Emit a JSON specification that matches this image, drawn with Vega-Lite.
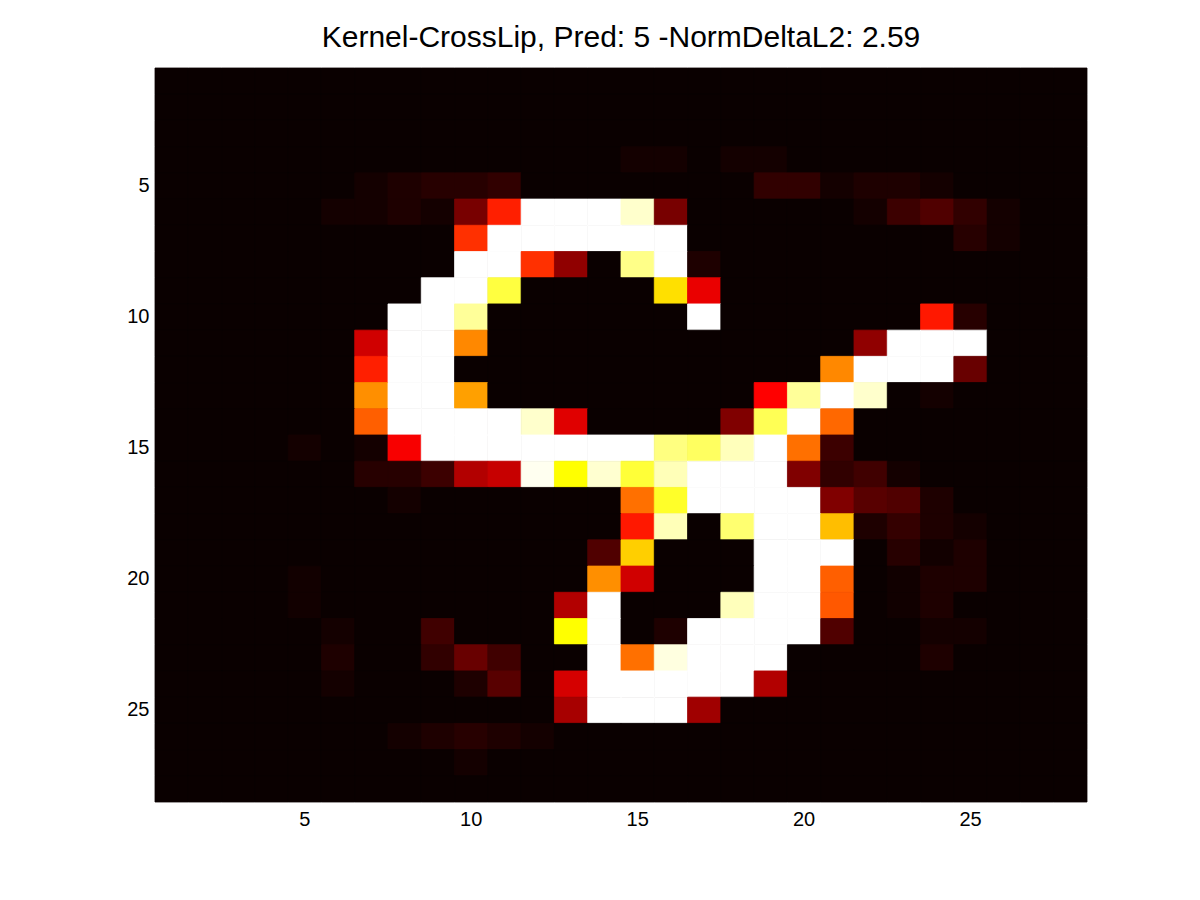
{"$schema":"https://vega.github.io/schema/vega-lite/v6.json","width":932,"height":734,"autosize":{"type":"none"},"padding":{"left":155,"top":68,"right":113,"bottom":98},"background":"white","title":{"text":"Kernel-CrossLip, Pred: 5 -NormDeltaL2: 2.59","font":"Liberation Sans","fontSize":30,"fontWeight":"normal","color":"#000000","anchor":"middle","offset":15},"config":{"view":{"stroke":null,"fill":"#0a0000"}},"data":{"values":[
{"r":1,"c":1,"v":0},{"r":1,"c":2,"v":0},{"r":1,"c":3,"v":0},{"r":1,"c":4,"v":0},{"r":1,"c":5,"v":0},{"r":1,"c":6,"v":0},{"r":1,"c":7,"v":0},{"r":1,"c":8,"v":0},{"r":1,"c":9,"v":0},{"r":1,"c":10,"v":0},{"r":1,"c":11,"v":0},{"r":1,"c":12,"v":0},{"r":1,"c":13,"v":0},{"r":1,"c":14,"v":0},{"r":1,"c":15,"v":0},{"r":1,"c":16,"v":0},{"r":1,"c":17,"v":0},{"r":1,"c":18,"v":0},{"r":1,"c":19,"v":0},{"r":1,"c":20,"v":0},{"r":1,"c":21,"v":0},{"r":1,"c":22,"v":0},{"r":1,"c":23,"v":0},{"r":1,"c":24,"v":0},{"r":1,"c":25,"v":0},{"r":1,"c":26,"v":0},{"r":1,"c":27,"v":0},{"r":1,"c":28,"v":0},
{"r":2,"c":1,"v":0},{"r":2,"c":2,"v":0},{"r":2,"c":3,"v":0},{"r":2,"c":4,"v":0},{"r":2,"c":5,"v":0},{"r":2,"c":6,"v":0},{"r":2,"c":7,"v":0},{"r":2,"c":8,"v":0},{"r":2,"c":9,"v":0},{"r":2,"c":10,"v":0},{"r":2,"c":11,"v":0},{"r":2,"c":12,"v":0},{"r":2,"c":13,"v":0},{"r":2,"c":14,"v":0},{"r":2,"c":15,"v":0},{"r":2,"c":16,"v":0},{"r":2,"c":17,"v":0},{"r":2,"c":18,"v":0},{"r":2,"c":19,"v":0},{"r":2,"c":20,"v":0},{"r":2,"c":21,"v":0},{"r":2,"c":22,"v":0},{"r":2,"c":23,"v":0},{"r":2,"c":24,"v":0},{"r":2,"c":25,"v":0},{"r":2,"c":26,"v":0},{"r":2,"c":27,"v":0},{"r":2,"c":28,"v":0},
{"r":3,"c":1,"v":0},{"r":3,"c":2,"v":0},{"r":3,"c":3,"v":0},{"r":3,"c":4,"v":0},{"r":3,"c":5,"v":0},{"r":3,"c":6,"v":0},{"r":3,"c":7,"v":0},{"r":3,"c":8,"v":0},{"r":3,"c":9,"v":0},{"r":3,"c":10,"v":0},{"r":3,"c":11,"v":0},{"r":3,"c":12,"v":0},{"r":3,"c":13,"v":0},{"r":3,"c":14,"v":0},{"r":3,"c":15,"v":0},{"r":3,"c":16,"v":0},{"r":3,"c":17,"v":0},{"r":3,"c":18,"v":0},{"r":3,"c":19,"v":0},{"r":3,"c":20,"v":0},{"r":3,"c":21,"v":0},{"r":3,"c":22,"v":0},{"r":3,"c":23,"v":0},{"r":3,"c":24,"v":0},{"r":3,"c":25,"v":0},{"r":3,"c":26,"v":0},{"r":3,"c":27,"v":0},{"r":3,"c":28,"v":0},
{"r":4,"c":1,"v":0},{"r":4,"c":2,"v":0},{"r":4,"c":3,"v":0},{"r":4,"c":4,"v":0},{"r":4,"c":5,"v":0},{"r":4,"c":6,"v":0},{"r":4,"c":7,"v":0},{"r":4,"c":8,"v":0},{"r":4,"c":9,"v":0},{"r":4,"c":10,"v":0},{"r":4,"c":11,"v":0},{"r":4,"c":12,"v":0},{"r":4,"c":13,"v":0},{"r":4,"c":14,"v":0},{"r":4,"c":15,"v":0.015},{"r":4,"c":16,"v":0.015},{"r":4,"c":17,"v":0},{"r":4,"c":18,"v":0.015},{"r":4,"c":19,"v":0.015},{"r":4,"c":20,"v":0},{"r":4,"c":21,"v":0},{"r":4,"c":22,"v":0},{"r":4,"c":23,"v":0},{"r":4,"c":24,"v":0},{"r":4,"c":25,"v":0},{"r":4,"c":26,"v":0},{"r":4,"c":27,"v":0},{"r":4,"c":28,"v":0},
{"r":5,"c":1,"v":0},{"r":5,"c":2,"v":0},{"r":5,"c":3,"v":0},{"r":5,"c":4,"v":0},{"r":5,"c":5,"v":0},{"r":5,"c":6,"v":0},{"r":5,"c":7,"v":0.015},{"r":5,"c":8,"v":0.03},{"r":5,"c":9,"v":0.045},{"r":5,"c":10,"v":0.045},{"r":5,"c":11,"v":0.06},{"r":5,"c":12,"v":0},{"r":5,"c":13,"v":0},{"r":5,"c":14,"v":0},{"r":5,"c":15,"v":0},{"r":5,"c":16,"v":0},{"r":5,"c":17,"v":0},{"r":5,"c":18,"v":0},{"r":5,"c":19,"v":0.06},{"r":5,"c":20,"v":0.06},{"r":5,"c":21,"v":0.015},{"r":5,"c":22,"v":0.03},{"r":5,"c":23,"v":0.03},{"r":5,"c":24,"v":0.015},{"r":5,"c":25,"v":0},{"r":5,"c":26,"v":0},{"r":5,"c":27,"v":0},{"r":5,"c":28,"v":0},
{"r":6,"c":1,"v":0},{"r":6,"c":2,"v":0},{"r":6,"c":3,"v":0},{"r":6,"c":4,"v":0},{"r":6,"c":5,"v":0},{"r":6,"c":6,"v":0.015},{"r":6,"c":7,"v":0.015},{"r":6,"c":8,"v":0.03},{"r":6,"c":9,"v":0.015},{"r":6,"c":10,"v":0.168},{"r":6,"c":11,"v":0.42},{"r":6,"c":12,"v":1},{"r":6,"c":13,"v":1},{"r":6,"c":14,"v":1},{"r":6,"c":15,"v":0.95},{"r":6,"c":16,"v":0.168},{"r":6,"c":17,"v":0},{"r":6,"c":18,"v":0},{"r":6,"c":19,"v":0},{"r":6,"c":20,"v":0},{"r":6,"c":21,"v":0},{"r":6,"c":22,"v":0.015},{"r":6,"c":23,"v":0.077},{"r":6,"c":24,"v":0.107},{"r":6,"c":25,"v":0.06},{"r":6,"c":26,"v":0.015},{"r":6,"c":27,"v":0},{"r":6,"c":28,"v":0},
{"r":7,"c":1,"v":0},{"r":7,"c":2,"v":0},{"r":7,"c":3,"v":0},{"r":7,"c":4,"v":0},{"r":7,"c":5,"v":0},{"r":7,"c":6,"v":0},{"r":7,"c":7,"v":0},{"r":7,"c":8,"v":0},{"r":7,"c":9,"v":0},{"r":7,"c":10,"v":0.445},{"r":7,"c":11,"v":1},{"r":7,"c":12,"v":1},{"r":7,"c":13,"v":1},{"r":7,"c":14,"v":1},{"r":7,"c":15,"v":1},{"r":7,"c":16,"v":1},{"r":7,"c":17,"v":0},{"r":7,"c":18,"v":0},{"r":7,"c":19,"v":0},{"r":7,"c":20,"v":0},{"r":7,"c":21,"v":0},{"r":7,"c":22,"v":0},{"r":7,"c":23,"v":0},{"r":7,"c":24,"v":0},{"r":7,"c":25,"v":0.045},{"r":7,"c":26,"v":0.015},{"r":7,"c":27,"v":0},{"r":7,"c":28,"v":0},
{"r":8,"c":1,"v":0},{"r":8,"c":2,"v":0},{"r":8,"c":3,"v":0},{"r":8,"c":4,"v":0},{"r":8,"c":5,"v":0},{"r":8,"c":6,"v":0},{"r":8,"c":7,"v":0},{"r":8,"c":8,"v":0},{"r":8,"c":9,"v":0},{"r":8,"c":10,"v":1},{"r":8,"c":11,"v":1},{"r":8,"c":12,"v":0.445},{"r":8,"c":13,"v":0.205},{"r":8,"c":14,"v":0},{"r":8,"c":15,"v":0.883},{"r":8,"c":16,"v":1},{"r":8,"c":17,"v":0.03},{"r":8,"c":18,"v":0},{"r":8,"c":19,"v":0},{"r":8,"c":20,"v":0},{"r":8,"c":21,"v":0},{"r":8,"c":22,"v":0},{"r":8,"c":23,"v":0},{"r":8,"c":24,"v":0},{"r":8,"c":25,"v":0},{"r":8,"c":26,"v":0},{"r":8,"c":27,"v":0},{"r":8,"c":28,"v":0},
{"r":9,"c":1,"v":0},{"r":9,"c":2,"v":0},{"r":9,"c":3,"v":0},{"r":9,"c":4,"v":0},{"r":9,"c":5,"v":0},{"r":9,"c":6,"v":0},{"r":9,"c":7,"v":0},{"r":9,"c":8,"v":0},{"r":9,"c":9,"v":1},{"r":9,"c":10,"v":1},{"r":9,"c":11,"v":0.813},{"r":9,"c":12,"v":0},{"r":9,"c":13,"v":0},{"r":9,"c":14,"v":0},{"r":9,"c":15,"v":0},{"r":9,"c":16,"v":0.705},{"r":9,"c":17,"v":0.343},{"r":9,"c":18,"v":0},{"r":9,"c":19,"v":0},{"r":9,"c":20,"v":0},{"r":9,"c":21,"v":0},{"r":9,"c":22,"v":0},{"r":9,"c":23,"v":0},{"r":9,"c":24,"v":0},{"r":9,"c":25,"v":0},{"r":9,"c":26,"v":0},{"r":9,"c":27,"v":0},{"r":9,"c":28,"v":0},
{"r":10,"c":1,"v":0},{"r":10,"c":2,"v":0},{"r":10,"c":3,"v":0},{"r":10,"c":4,"v":0},{"r":10,"c":5,"v":0},{"r":10,"c":6,"v":0},{"r":10,"c":7,"v":0},{"r":10,"c":8,"v":1},{"r":10,"c":9,"v":1},{"r":10,"c":10,"v":0.9},{"r":10,"c":11,"v":0},{"r":10,"c":12,"v":0},{"r":10,"c":13,"v":0},{"r":10,"c":14,"v":0},{"r":10,"c":15,"v":0},{"r":10,"c":16,"v":0},{"r":10,"c":17,"v":1},{"r":10,"c":18,"v":0},{"r":10,"c":19,"v":0},{"r":10,"c":20,"v":0},{"r":10,"c":21,"v":0},{"r":10,"c":22,"v":0},{"r":10,"c":23,"v":0},{"r":10,"c":24,"v":0.41},{"r":10,"c":25,"v":0.045},{"r":10,"c":26,"v":0},{"r":10,"c":27,"v":0},{"r":10,"c":28,"v":0},
{"r":11,"c":1,"v":0},{"r":11,"c":2,"v":0},{"r":11,"c":3,"v":0},{"r":11,"c":4,"v":0},{"r":11,"c":5,"v":0},{"r":11,"c":6,"v":0},{"r":11,"c":7,"v":0.303},{"r":11,"c":8,"v":1},{"r":11,"c":9,"v":1},{"r":11,"c":10,"v":0.575},{"r":11,"c":11,"v":0},{"r":11,"c":12,"v":0},{"r":11,"c":13,"v":0},{"r":11,"c":14,"v":0},{"r":11,"c":15,"v":0},{"r":11,"c":16,"v":0},{"r":11,"c":17,"v":0},{"r":11,"c":18,"v":0},{"r":11,"c":19,"v":0},{"r":11,"c":20,"v":0},{"r":11,"c":21,"v":0},{"r":11,"c":22,"v":0.205},{"r":11,"c":23,"v":1},{"r":11,"c":24,"v":1},{"r":11,"c":25,"v":1},{"r":11,"c":26,"v":0},{"r":11,"c":27,"v":0},{"r":11,"c":28,"v":0},
{"r":12,"c":1,"v":0},{"r":12,"c":2,"v":0},{"r":12,"c":3,"v":0},{"r":12,"c":4,"v":0},{"r":12,"c":5,"v":0},{"r":12,"c":6,"v":0},{"r":12,"c":7,"v":0.42},{"r":12,"c":8,"v":1},{"r":12,"c":9,"v":1},{"r":12,"c":10,"v":0},{"r":12,"c":11,"v":0},{"r":12,"c":12,"v":0},{"r":12,"c":13,"v":0},{"r":12,"c":14,"v":0},{"r":12,"c":15,"v":0},{"r":12,"c":16,"v":0},{"r":12,"c":17,"v":0},{"r":12,"c":18,"v":0},{"r":12,"c":19,"v":0},{"r":12,"c":20,"v":0},{"r":12,"c":21,"v":0.575},{"r":12,"c":22,"v":1},{"r":12,"c":23,"v":1},{"r":12,"c":24,"v":1},{"r":12,"c":25,"v":0.144},{"r":12,"c":26,"v":0},{"r":12,"c":27,"v":0},{"r":12,"c":28,"v":0},
{"r":13,"c":1,"v":0},{"r":13,"c":2,"v":0},{"r":13,"c":3,"v":0},{"r":13,"c":4,"v":0},{"r":13,"c":5,"v":0},{"r":13,"c":6,"v":0},{"r":13,"c":7,"v":0.585},{"r":13,"c":8,"v":1},{"r":13,"c":9,"v":1},{"r":13,"c":10,"v":0.61},{"r":13,"c":11,"v":0},{"r":13,"c":12,"v":0},{"r":13,"c":13,"v":0},{"r":13,"c":14,"v":0},{"r":13,"c":15,"v":0},{"r":13,"c":16,"v":0},{"r":13,"c":17,"v":0},{"r":13,"c":18,"v":0},{"r":13,"c":19,"v":0.375},{"r":13,"c":20,"v":0.9},{"r":13,"c":21,"v":1},{"r":13,"c":22,"v":0.95},{"r":13,"c":23,"v":0},{"r":13,"c":24,"v":0.015},{"r":13,"c":25,"v":0},{"r":13,"c":26,"v":0},{"r":13,"c":27,"v":0},{"r":13,"c":28,"v":0},
{"r":14,"c":1,"v":0},{"r":14,"c":2,"v":0},{"r":14,"c":3,"v":0},{"r":14,"c":4,"v":0},{"r":14,"c":5,"v":0},{"r":14,"c":6,"v":0},{"r":14,"c":7,"v":0.515},{"r":14,"c":8,"v":1},{"r":14,"c":9,"v":1},{"r":14,"c":10,"v":1},{"r":14,"c":11,"v":1},{"r":14,"c":12,"v":0.95},{"r":14,"c":13,"v":0.328},{"r":14,"c":14,"v":0},{"r":14,"c":15,"v":0},{"r":14,"c":16,"v":0},{"r":14,"c":17,"v":0},{"r":14,"c":18,"v":0.18},{"r":14,"c":19,"v":0.833},{"r":14,"c":20,"v":1},{"r":14,"c":21,"v":0.528},{"r":14,"c":22,"v":0},{"r":14,"c":23,"v":0},{"r":14,"c":24,"v":0},{"r":14,"c":25,"v":0},{"r":14,"c":26,"v":0},{"r":14,"c":27,"v":0},{"r":14,"c":28,"v":0},
{"r":15,"c":1,"v":0},{"r":15,"c":2,"v":0},{"r":15,"c":3,"v":0},{"r":15,"c":4,"v":0},{"r":15,"c":5,"v":0.015},{"r":15,"c":6,"v":0},{"r":15,"c":7,"v":0.015},{"r":15,"c":8,"v":0.365},{"r":15,"c":9,"v":1},{"r":15,"c":10,"v":1},{"r":15,"c":11,"v":1},{"r":15,"c":12,"v":1},{"r":15,"c":13,"v":1},{"r":15,"c":14,"v":1},{"r":15,"c":15,"v":1},{"r":15,"c":16,"v":0.875},{"r":15,"c":17,"v":0.844},{"r":15,"c":18,"v":0.933},{"r":15,"c":19,"v":1},{"r":15,"c":20,"v":0.54},{"r":15,"c":21,"v":0.077},{"r":15,"c":22,"v":0},{"r":15,"c":23,"v":0},{"r":15,"c":24,"v":0},{"r":15,"c":25,"v":0},{"r":15,"c":26,"v":0},{"r":15,"c":27,"v":0},{"r":15,"c":28,"v":0},
{"r":16,"c":1,"v":0},{"r":16,"c":2,"v":0},{"r":16,"c":3,"v":0},{"r":16,"c":4,"v":0},{"r":16,"c":5,"v":0},{"r":16,"c":6,"v":0},{"r":16,"c":7,"v":0.045},{"r":16,"c":8,"v":0.045},{"r":16,"c":9,"v":0.077},{"r":16,"c":10,"v":0.257},{"r":16,"c":11,"v":0.29},{"r":16,"c":12,"v":0.985},{"r":16,"c":13,"v":0.75},{"r":16,"c":14,"v":0.954},{"r":16,"c":15,"v":0.805},{"r":16,"c":16,"v":0.93},{"r":16,"c":17,"v":1},{"r":16,"c":18,"v":1},{"r":16,"c":19,"v":1},{"r":16,"c":20,"v":0.18},{"r":16,"c":21,"v":0.06},{"r":16,"c":22,"v":0.083},{"r":16,"c":23,"v":0.015},{"r":16,"c":24,"v":0},{"r":16,"c":25,"v":0},{"r":16,"c":26,"v":0},{"r":16,"c":27,"v":0},{"r":16,"c":28,"v":0},
{"r":17,"c":1,"v":0},{"r":17,"c":2,"v":0},{"r":17,"c":3,"v":0},{"r":17,"c":4,"v":0},{"r":17,"c":5,"v":0},{"r":17,"c":6,"v":0},{"r":17,"c":7,"v":0},{"r":17,"c":8,"v":0.015},{"r":17,"c":9,"v":0},{"r":17,"c":10,"v":0},{"r":17,"c":11,"v":0},{"r":17,"c":12,"v":0},{"r":17,"c":13,"v":0},{"r":17,"c":14,"v":0},{"r":17,"c":15,"v":0.54},{"r":17,"c":16,"v":0.79},{"r":17,"c":17,"v":1},{"r":17,"c":18,"v":1},{"r":17,"c":19,"v":1},{"r":17,"c":20,"v":1},{"r":17,"c":21,"v":0.18},{"r":17,"c":22,"v":0.12},{"r":17,"c":23,"v":0.107},{"r":17,"c":24,"v":0.03},{"r":17,"c":25,"v":0},{"r":17,"c":26,"v":0},{"r":17,"c":27,"v":0},{"r":17,"c":28,"v":0},
{"r":18,"c":1,"v":0},{"r":18,"c":2,"v":0},{"r":18,"c":3,"v":0},{"r":18,"c":4,"v":0},{"r":18,"c":5,"v":0},{"r":18,"c":6,"v":0},{"r":18,"c":7,"v":0},{"r":18,"c":8,"v":0},{"r":18,"c":9,"v":0},{"r":18,"c":10,"v":0},{"r":18,"c":11,"v":0},{"r":18,"c":12,"v":0},{"r":18,"c":13,"v":0},{"r":18,"c":14,"v":0},{"r":18,"c":15,"v":0.41},{"r":18,"c":16,"v":0.93},{"r":18,"c":17,"v":0},{"r":18,"c":18,"v":0.86},{"r":18,"c":19,"v":1},{"r":18,"c":20,"v":1},{"r":18,"c":21,"v":0.655},{"r":18,"c":22,"v":0.03},{"r":18,"c":23,"v":0.065},{"r":18,"c":24,"v":0.03},{"r":18,"c":25,"v":0.015},{"r":18,"c":26,"v":0},{"r":18,"c":27,"v":0},{"r":18,"c":28,"v":0},
{"r":19,"c":1,"v":0},{"r":19,"c":2,"v":0},{"r":19,"c":3,"v":0},{"r":19,"c":4,"v":0},{"r":19,"c":5,"v":0},{"r":19,"c":6,"v":0},{"r":19,"c":7,"v":0},{"r":19,"c":8,"v":0},{"r":19,"c":9,"v":0},{"r":19,"c":10,"v":0},{"r":19,"c":11,"v":0},{"r":19,"c":12,"v":0},{"r":19,"c":13,"v":0},{"r":19,"c":14,"v":0.107},{"r":19,"c":15,"v":0.68},{"r":19,"c":16,"v":0},{"r":19,"c":17,"v":0},{"r":19,"c":18,"v":0},{"r":19,"c":19,"v":1},{"r":19,"c":20,"v":1},{"r":19,"c":21,"v":1},{"r":19,"c":22,"v":0},{"r":19,"c":23,"v":0.045},{"r":19,"c":24,"v":0.012},{"r":19,"c":25,"v":0.03},{"r":19,"c":26,"v":0},{"r":19,"c":27,"v":0},{"r":19,"c":28,"v":0},
{"r":20,"c":1,"v":0},{"r":20,"c":2,"v":0},{"r":20,"c":3,"v":0},{"r":20,"c":4,"v":0},{"r":20,"c":5,"v":0.012},{"r":20,"c":6,"v":0},{"r":20,"c":7,"v":0},{"r":20,"c":8,"v":0},{"r":20,"c":9,"v":0},{"r":20,"c":10,"v":0},{"r":20,"c":11,"v":0},{"r":20,"c":12,"v":0},{"r":20,"c":13,"v":0},{"r":20,"c":14,"v":0.585},{"r":20,"c":15,"v":0.303},{"r":20,"c":16,"v":0},{"r":20,"c":17,"v":0},{"r":20,"c":18,"v":0},{"r":20,"c":19,"v":1},{"r":20,"c":20,"v":1},{"r":20,"c":21,"v":0.515},{"r":20,"c":22,"v":0},{"r":20,"c":23,"v":0.01},{"r":20,"c":24,"v":0.03},{"r":20,"c":25,"v":0.03},{"r":20,"c":26,"v":0},{"r":20,"c":27,"v":0},{"r":20,"c":28,"v":0},
{"r":21,"c":1,"v":0},{"r":21,"c":2,"v":0},{"r":21,"c":3,"v":0},{"r":21,"c":4,"v":0},{"r":21,"c":5,"v":0.012},{"r":21,"c":6,"v":0},{"r":21,"c":7,"v":0},{"r":21,"c":8,"v":0},{"r":21,"c":9,"v":0},{"r":21,"c":10,"v":0},{"r":21,"c":11,"v":0},{"r":21,"c":12,"v":0},{"r":21,"c":13,"v":0.257},{"r":21,"c":14,"v":1},{"r":21,"c":15,"v":0},{"r":21,"c":16,"v":0},{"r":21,"c":17,"v":0},{"r":21,"c":18,"v":0.933},{"r":21,"c":19,"v":1},{"r":21,"c":20,"v":1},{"r":21,"c":21,"v":0.505},{"r":21,"c":22,"v":0},{"r":21,"c":23,"v":0.01},{"r":21,"c":24,"v":0.03},{"r":21,"c":25,"v":0},{"r":21,"c":26,"v":0},{"r":21,"c":27,"v":0},{"r":21,"c":28,"v":0},
{"r":22,"c":1,"v":0},{"r":22,"c":2,"v":0},{"r":22,"c":3,"v":0},{"r":22,"c":4,"v":0},{"r":22,"c":5,"v":0},{"r":22,"c":6,"v":0.015},{"r":22,"c":7,"v":0},{"r":22,"c":8,"v":0},{"r":22,"c":9,"v":0.083},{"r":22,"c":10,"v":0},{"r":22,"c":11,"v":0},{"r":22,"c":12,"v":0},{"r":22,"c":13,"v":0.75},{"r":22,"c":14,"v":1},{"r":22,"c":15,"v":0},{"r":22,"c":16,"v":0.03},{"r":22,"c":17,"v":1},{"r":22,"c":18,"v":1},{"r":22,"c":19,"v":1},{"r":22,"c":20,"v":1},{"r":22,"c":21,"v":0.107},{"r":22,"c":22,"v":0},{"r":22,"c":23,"v":0},{"r":22,"c":24,"v":0.015},{"r":22,"c":25,"v":0.015},{"r":22,"c":26,"v":0},{"r":22,"c":27,"v":0},{"r":22,"c":28,"v":0},
{"r":23,"c":1,"v":0},{"r":23,"c":2,"v":0},{"r":23,"c":3,"v":0},{"r":23,"c":4,"v":0},{"r":23,"c":5,"v":0},{"r":23,"c":6,"v":0.03},{"r":23,"c":7,"v":0},{"r":23,"c":8,"v":0},{"r":23,"c":9,"v":0.06},{"r":23,"c":10,"v":0.144},{"r":23,"c":11,"v":0.083},{"r":23,"c":12,"v":0},{"r":23,"c":13,"v":0},{"r":23,"c":14,"v":1},{"r":23,"c":15,"v":0.54},{"r":23,"c":16,"v":0.97},{"r":23,"c":17,"v":1},{"r":23,"c":18,"v":1},{"r":23,"c":19,"v":1},{"r":23,"c":20,"v":0},{"r":23,"c":21,"v":0},{"r":23,"c":22,"v":0},{"r":23,"c":23,"v":0},{"r":23,"c":24,"v":0.03},{"r":23,"c":25,"v":0},{"r":23,"c":26,"v":0},{"r":23,"c":27,"v":0},{"r":23,"c":28,"v":0},
{"r":24,"c":1,"v":0},{"r":24,"c":2,"v":0},{"r":24,"c":3,"v":0},{"r":24,"c":4,"v":0},{"r":24,"c":5,"v":0},{"r":24,"c":6,"v":0.015},{"r":24,"c":7,"v":0},{"r":24,"c":8,"v":0},{"r":24,"c":9,"v":0},{"r":24,"c":10,"v":0.03},{"r":24,"c":11,"v":0.12},{"r":24,"c":12,"v":0},{"r":24,"c":13,"v":0.31},{"r":24,"c":14,"v":1},{"r":24,"c":15,"v":1},{"r":24,"c":16,"v":1},{"r":24,"c":17,"v":1},{"r":24,"c":18,"v":1},{"r":24,"c":19,"v":0.257},{"r":24,"c":20,"v":0},{"r":24,"c":21,"v":0},{"r":24,"c":22,"v":0},{"r":24,"c":23,"v":0},{"r":24,"c":24,"v":0},{"r":24,"c":25,"v":0},{"r":24,"c":26,"v":0},{"r":24,"c":27,"v":0},{"r":24,"c":28,"v":0},
{"r":25,"c":1,"v":0},{"r":25,"c":2,"v":0},{"r":25,"c":3,"v":0},{"r":25,"c":4,"v":0},{"r":25,"c":5,"v":0},{"r":25,"c":6,"v":0},{"r":25,"c":7,"v":0},{"r":25,"c":8,"v":0},{"r":25,"c":9,"v":0},{"r":25,"c":10,"v":0},{"r":25,"c":11,"v":0},{"r":25,"c":12,"v":0},{"r":25,"c":13,"v":0.24},{"r":25,"c":14,"v":1},{"r":25,"c":15,"v":1},{"r":25,"c":16,"v":1},{"r":25,"c":17,"v":0.23},{"r":25,"c":18,"v":0},{"r":25,"c":19,"v":0},{"r":25,"c":20,"v":0},{"r":25,"c":21,"v":0},{"r":25,"c":22,"v":0},{"r":25,"c":23,"v":0},{"r":25,"c":24,"v":0},{"r":25,"c":25,"v":0},{"r":25,"c":26,"v":0},{"r":25,"c":27,"v":0},{"r":25,"c":28,"v":0},
{"r":26,"c":1,"v":0},{"r":26,"c":2,"v":0},{"r":26,"c":3,"v":0},{"r":26,"c":4,"v":0},{"r":26,"c":5,"v":0},{"r":26,"c":6,"v":0},{"r":26,"c":7,"v":0},{"r":26,"c":8,"v":0.015},{"r":26,"c":9,"v":0.03},{"r":26,"c":10,"v":0.045},{"r":26,"c":11,"v":0.03},{"r":26,"c":12,"v":0.015},{"r":26,"c":13,"v":0},{"r":26,"c":14,"v":0},{"r":26,"c":15,"v":0},{"r":26,"c":16,"v":0},{"r":26,"c":17,"v":0},{"r":26,"c":18,"v":0},{"r":26,"c":19,"v":0},{"r":26,"c":20,"v":0},{"r":26,"c":21,"v":0},{"r":26,"c":22,"v":0},{"r":26,"c":23,"v":0},{"r":26,"c":24,"v":0},{"r":26,"c":25,"v":0},{"r":26,"c":26,"v":0},{"r":26,"c":27,"v":0},{"r":26,"c":28,"v":0},
{"r":27,"c":1,"v":0},{"r":27,"c":2,"v":0},{"r":27,"c":3,"v":0},{"r":27,"c":4,"v":0},{"r":27,"c":5,"v":0},{"r":27,"c":6,"v":0},{"r":27,"c":7,"v":0},{"r":27,"c":8,"v":0},{"r":27,"c":9,"v":0},{"r":27,"c":10,"v":0.015},{"r":27,"c":11,"v":0},{"r":27,"c":12,"v":0},{"r":27,"c":13,"v":0},{"r":27,"c":14,"v":0},{"r":27,"c":15,"v":0},{"r":27,"c":16,"v":0},{"r":27,"c":17,"v":0},{"r":27,"c":18,"v":0},{"r":27,"c":19,"v":0},{"r":27,"c":20,"v":0},{"r":27,"c":21,"v":0},{"r":27,"c":22,"v":0},{"r":27,"c":23,"v":0},{"r":27,"c":24,"v":0},{"r":27,"c":25,"v":0},{"r":27,"c":26,"v":0},{"r":27,"c":27,"v":0},{"r":27,"c":28,"v":0},
{"r":28,"c":1,"v":0},{"r":28,"c":2,"v":0},{"r":28,"c":3,"v":0},{"r":28,"c":4,"v":0},{"r":28,"c":5,"v":0},{"r":28,"c":6,"v":0},{"r":28,"c":7,"v":0},{"r":28,"c":8,"v":0},{"r":28,"c":9,"v":0},{"r":28,"c":10,"v":0},{"r":28,"c":11,"v":0},{"r":28,"c":12,"v":0},{"r":28,"c":13,"v":0},{"r":28,"c":14,"v":0},{"r":28,"c":15,"v":0},{"r":28,"c":16,"v":0},{"r":28,"c":17,"v":0},{"r":28,"c":18,"v":0},{"r":28,"c":19,"v":0},{"r":28,"c":20,"v":0},{"r":28,"c":21,"v":0},{"r":28,"c":22,"v":0},{"r":28,"c":23,"v":0},{"r":28,"c":24,"v":0},{"r":28,"c":25,"v":0},{"r":28,"c":26,"v":0},{"r":28,"c":27,"v":0},{"r":28,"c":28,"v":0}
]},"mark":{"type":"rect","strokeWidth":0.8,"opacity":1},"encoding":{"x":{"field":"c","type":"ordinal","scale":{"paddingInner":0,"paddingOuter":0},"axis":{"title":null,"values":[5,10,15,20,25],"labelAngle":0,"domain":false,"ticks":false,"grid":false,"labelFont":"Liberation Sans","labelFontSize":20,"labelColor":"#000000","labelPadding":7}},"y":{"field":"r","type":"ordinal","scale":{"paddingInner":0,"paddingOuter":0},"axis":{"title":null,"values":[5,10,15,20,25],"domain":false,"ticks":false,"grid":false,"labelFont":"Liberation Sans","labelFontSize":20,"labelColor":"#000000","labelPadding":6}},"color":{"field":"v","type":"quantitative","legend":null,"scale":{"domain":[0,0.375,0.75,1],"range":["#0a0000","#ff0000","#ffff00","#ffffff"],"interpolate":"rgb","clamp":true}},"stroke":{"field":"v","type":"quantitative","legend":null,"scale":{"domain":[0,0.375,0.75,1],"range":["#0a0000","#ff0000","#ffff00","#ffffff"],"interpolate":"rgb","clamp":true}}}}
